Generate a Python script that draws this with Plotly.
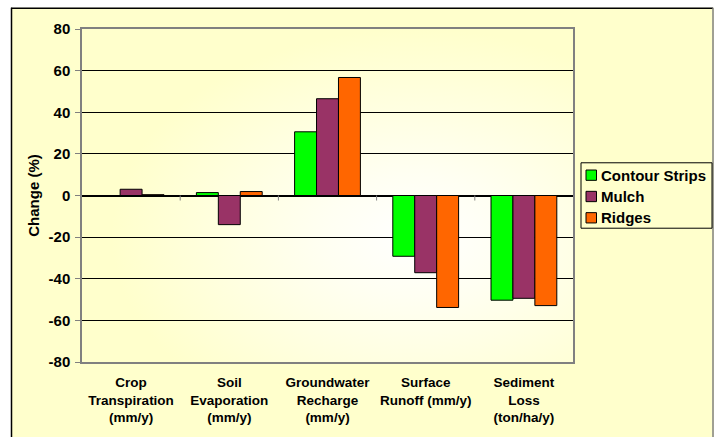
import base64
import plotly.graph_objects as go

# Categories and percentage changes per conservation practice
categories = [
    "Crop<br>Transpiration<br>(mm/y)",
    "Soil<br>Evaporation<br>(mm/y)",
    "Groundwater<br>Recharge<br>(mm/y)",
    "Surface<br>Runoff (mm/y)",
    "Sediment<br>Loss<br>(ton/ha/y)",
]
contour_strips = [0.0, 1.4, 30.6, -29.2, -50.3]
mulch = [3.0, -14.0, 46.5, -37.1, -49.4]
ridges = [0.4, 1.9, 56.7, -53.8, -52.9]

series_names = ["Contour Strips", "Mulch", "Ridges"]
series_values = [contour_strips, mulch, ridges]
series_colors = ["#00FF00", "#993366", "#FF6600"]

y_ticks = [-80, -60, -40, -20, 0, 20, 40, 60, 80]
y_tick_text = [str(v) for v in y_ticks]

W, H = 714, 437
ML, MR, MT, MB = 82, 141, 28.5, 72.5
PW, PH = W - ML - MR, H - MT - MB


def px_x(p):
    return (p - ML) / PW


def px_y(p):
    return (H - MB - p) / PH


font_family = "Arial, Liberation Sans, sans-serif"

fig = go.Figure()
for name, vals, col in zip(series_names, series_values, series_colors):
    fig.add_trace(go.Bar(
        x=categories, y=vals, name=name,
        marker=dict(color=col, line=dict(color="#000000", width=1)),
    ))

# Soft radial wash behind the plotting area
svg = (
    '<svg xmlns="http://www.w3.org/2000/svg" width="100" height="100" '
    'viewBox="0 0 100 100" preserveAspectRatio="none">'
    '<defs><radialGradient id="g" cx="0.68" cy="0.62" r="0.62">'
    '<stop offset="0" stop-color="#FFFFFF"/>'
    '<stop offset="0.3" stop-color="#FFFFF2"/>'
    '<stop offset="1" stop-color="#FFFFCC"/>'
    '</radialGradient></defs>'
    '<rect x="0" y="0" width="100" height="100" fill="url(#g)"/></svg>'
)
bg_src = "data:image/svg+xml;base64," + base64.b64encode(svg.encode()).decode()

shapes = [
    # white page margin outside the chart frame
    dict(type="rect", xref="paper", yref="paper", x0=px_x(-5), x1=px_x(11),
         y0=px_y(H + 5), y1=px_y(-5), fillcolor="white", line=dict(width=0), layer="below"),
    dict(type="rect", xref="paper", yref="paper", x0=px_x(-5), x1=px_x(W + 5),
         y0=px_y(7), y1=px_y(-5), fillcolor="white", line=dict(width=0), layer="below"),
    # chart frame edges
    dict(type="line", xref="paper", yref="paper", x0=px_x(11.5), x1=px_x(11.5),
         y0=px_y(7), y1=px_y(H + 5), line=dict(color="#000000", width=1.5)),
    dict(type="line", xref="paper", yref="paper", x0=px_x(11), x1=px_x(713),
         y0=px_y(7.5), y1=px_y(7.5), line=dict(color="#000000", width=1.5)),
    dict(type="line", xref="paper", yref="paper", x0=px_x(713), x1=px_x(713),
         y0=px_y(7), y1=px_y(H + 5), line=dict(color="#808080", width=1.5)),
]
# category separator ticks hanging below the zero line
for i in range(len(categories) - 1):
    shapes.append(dict(
        type="line", xref="x", yref="y", ysizemode="pixel", yanchor=0,
        x0=i + 0.5, x1=i + 0.5, y0=0, y1=-5,
        line=dict(color="#808080", width=1),
    ))

# Legend box drawn beside the plot
LEG_L, LEG_R, LEG_T, LEG_B = 581, 712, 163.5, 229.5
shapes.append(dict(
    type="rect", xref="paper", yref="paper",
    x0=px_x(LEG_L), x1=px_x(LEG_R), y0=px_y(LEG_B), y1=px_y(LEG_T),
    fillcolor="#FFFFCC", line=dict(color="#000000", width=1),
))
annotations = []
row_centers = [176, 197.5, 219]
for name, col, cy in zip(series_names, series_colors, row_centers):
    shapes.append(dict(
        type="rect", xref="paper", yref="paper",
        x0=px_x(586), x1=px_x(596.5), y0=px_y(cy + 5.2), y1=px_y(cy - 5.2),
        fillcolor=col, line=dict(color="#000000", width=1),
    ))
    annotations.append(dict(
        text=name, xref="paper", yref="paper", x=px_x(598.5), y=px_y(cy),
        xanchor="left", yanchor="middle", showarrow=False,
        font=dict(family=font_family, size=15, color="#000000", weight="bold"),
    ))

fig.update_layout(
    width=W, height=H,
    margin=dict(l=ML, r=MR, t=MT, b=MB, pad=0),
    paper_bgcolor="#FFFFCC",
    plot_bgcolor="rgba(0,0,0,0)",
    barmode="group",
    bargap=0.33,
    bargroupgap=0,
    font=dict(family=font_family, size=13, color="#000000", weight="bold"),
    images=[dict(source=bg_src, xref="paper", yref="paper", x=0, y=1,
                 sizex=1, sizey=1, sizing="stretch", layer="below",
                 xanchor="left", yanchor="top")],
    shapes=shapes,
    annotations=annotations,
    showlegend=False,
    xaxis=dict(
        showgrid=False, showline=True, linecolor="#808080", linewidth=1.5,
        mirror=True, ticks="", ticklabelstandoff=7,
        tickfont=dict(size=13.5, weight="bold"),
        range=[-0.5, 4.5],
    ),
    yaxis=dict(
        range=[-80, 80], tickvals=y_ticks, ticktext=y_tick_text,
        ticks="outside", ticklen=5, ticklabelstandoff=2,
        tickcolor="#808080", tickwidth=1,
        showgrid=True, gridcolor="#000000", gridwidth=1,
        zeroline=True, zerolinecolor="#000000", zerolinewidth=1.5,
        showline=True, linecolor="#808080", linewidth=1.5, mirror=True,
        tickfont=dict(size=15, weight="bold"),
        title=dict(text="Change (%)", font=dict(size=15, weight="bold"), standoff=5),
    ),
)

fig.write_html("out.html")
